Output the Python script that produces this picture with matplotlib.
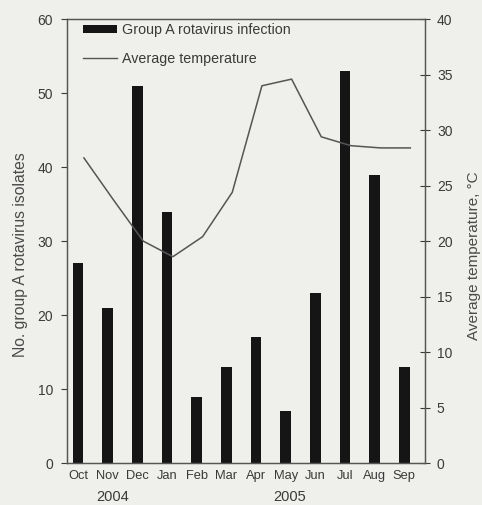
import matplotlib
matplotlib.use("Agg")
import matplotlib.pyplot as plt
import numpy as np
from matplotlib.patches import Patch
from matplotlib.lines import Line2D

months = ["Oct", "Nov", "Dec", "Jan", "Feb", "Mar", "Apr", "May", "Jun", "Jul", "Aug", "Sep"]
isolates = [27, 21, 51, 34, 9, 13, 17, 7, 23, 53, 39, 13]
temperature = [27.5, 23.7, 20.0, 18.6, 20.4, 24.4, 34.0, 34.6, 29.4, 28.6, 28.4, 28.4]
left_ticks = [0, 10, 20, 30, 40, 50, 60]
right_ticks = [0, 5, 10, 15, 20, 25, 30, 35, 40]
years = ["2004", "2005"]

plt.rcParams['font.family'] = ['Liberation Sans', 'DejaVu Sans']
bg = '#efefeb'
txt = '#3a3a3a'
fig = plt.figure(figsize=(4.82, 5.05), dpi=100, facecolor=bg)
ax = fig.add_axes([0.139, 0.083, 0.743, 0.879])
ax.set_facecolor(bg)
x = np.arange(len(months))
ax.bar(x, isolates, width=0.36, color='#151515', zorder=2)
ax.set_xlim(-0.37, 11.7)
ax.set_ylim(0, 60)
ax.set_yticks(left_ticks)
ax.set_xticks(x)
ax.set_xticklabels(months, fontsize=9.3, color=txt)
ax.tick_params(axis='x', length=0, pad=5)
ax.tick_params(axis='y', direction='out', length=4, labelsize=10, colors=txt, pad=6)
ax.set_ylabel("No. group A rotavirus isolates", fontsize=11.3, color='#4a4a4a')
ax.yaxis.set_label_coords(-0.109, 0.47)
for s in ax.spines.values():
    s.set_color('#555555')
    s.set_linewidth(0.9)

ax2 = ax.twinx()
ax2.plot(x + 0.2, temperature, color='#555555', lw=1.1, zorder=3)
ax2.set_ylim(0, 40)
ax2.set_yticks(right_ticks)
ax2.tick_params(axis='y', direction='inout', length=7, labelsize=10, colors=txt, pad=5)
ax2.set_ylabel("Average temperature, °C", fontsize=11, color='#4a4a4a')
ax2.yaxis.set_label_coords(1.118, 0.468)
for s in ax2.spines.values():
    s.set_color('#555555')
    s.set_linewidth(0.9)

handles = [Patch(facecolor='#151515', edgecolor='none'),
           Line2D([], [], color='#555555', lw=1.0)]
leg = ax.legend(handles, ["Group A rotavirus infection", "Average temperature"],
                loc='upper left', bbox_to_anchor=(0.045, 0.992), frameon=False,
                fontsize=10.3, handlelength=2.4, handleheight=0.5,
                labelspacing=1.05, handletextpad=0.3, borderaxespad=0.0,
                borderpad=0.0, labelcolor=txt)

fig.text(113 / 482, 1 - 497 / 505, years[0], fontsize=10.5, color=txt, ha='center', va='center')
fig.text(290 / 482, 1 - 497 / 505, years[1], fontsize=10.5, color=txt, ha='center', va='center')

fig.savefig("out.png", dpi=100, facecolor=bg)
